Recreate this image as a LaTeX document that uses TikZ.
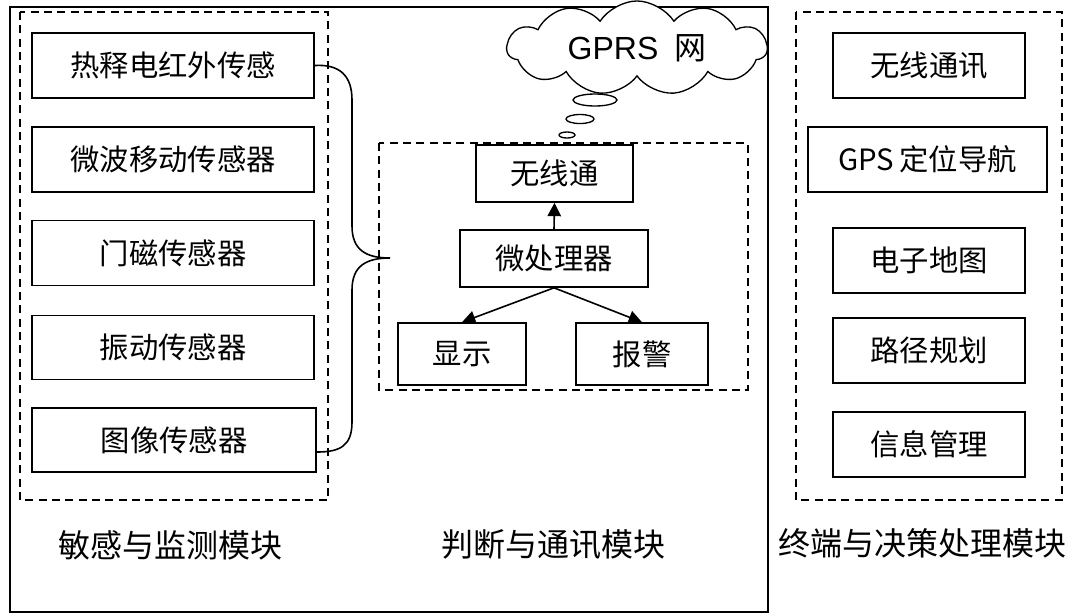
\documentclass[tikz,border=0pt]{standalone}
\usepackage{fontspec}
\setmainfont{Liberation Sans}
\newfontfamily\zh{Noto Sans CJK SC}
\usetikzlibrary{arrows.meta,shapes.symbols,calc}
\tikzset{
  frame/.style={draw,line width=1.2pt},
  dashbox/.style={draw,line width=1.1pt,dash pattern=on 6pt off 4pt},
  blk/.style={draw,line width=1.2pt,inner sep=0pt,
    font=\zh\fontsize{22}{22}\selectfont},
  caption/.style={font=\zh\fontsize{24}{24}\selectfont,inner sep=0pt},
  link/.style={line width=1.2pt,-{Triangle[length=10pt,width=10pt]}},
  bubble/.style={draw,line width=1pt}
}
\begin{document}
\begin{tikzpicture}[x=0.75pt,y=-0.75pt]
\useasboundingbox (0,0) rectangle (1070,615);
% outer frame and module borders
\draw[frame] (10,7) rectangle (768,612);
\draw[dashbox] (20,12) rectangle (328,500);
\draw[dashbox] (379,143) rectangle (748,390);
\draw[dashbox] (796,12) rectangle (1062,500);

% sensing module
\node[blk,minimum width=282*0.75pt,minimum height=65*0.75pt] (b1) at (173,65.5) {热释电红外传感};
\node[blk,minimum width=282*0.75pt,minimum height=65*0.75pt] (b2) at (173,159.5) {微波移动传感器};
\node[blk,minimum width=282*0.75pt,minimum height=65*0.75pt] (b3) at (173,253) {门磁传感器};
\node[blk,minimum width=282*0.75pt,minimum height=64*0.75pt] (b4) at (173,347.5) {振动传感器};
\node[blk,minimum width=284*0.75pt,minimum height=64*0.75pt] (b5) at (174,440) {图像传感器};

% brace gathering the sensors
\coordinate (brtip) at (390,258);
\coordinate (brend) at ($(b5.east)+(0,12)$);
\draw[line width=1.2pt] (b1.east) .. controls (340,64) and (352,76) .. (352,100)
  -- (352,226) .. controls (352,250) and (366,258) .. (brtip)
  .. controls (366,258) and (352,266) .. (352,290)
  -- (352,422) .. controls (352,446) and (340,452) .. (brend);

% decision and communication module
\node[blk,minimum width=157*0.75pt,minimum height=57*0.75pt] (wx) at (554.5,173.5) {无线通};
\node[blk,minimum width=188*0.75pt,minimum height=57*0.75pt] (mp) at (554,258.5) {微处理器};
\node[blk,minimum width=128*0.75pt,minimum height=62*0.75pt] (xs) at (462,354) {显示};
\node[blk,minimum width=132*0.75pt,minimum height=62*0.75pt] (bj) at (642,354) {报警};
\draw[link] (mp.north) -- (wx.south);
\draw[link] (mp.south) -- (xs.north);
\draw[link] (mp.south) -- (bj.north);

% GPRS cloud with thought bubbles
\node[cloud,draw,line width=1pt,fill=white,cloud puffs=11,cloud puff arc=115,
  cloud ignores aspect,minimum width=260*0.75pt,inner xsep=2pt,inner ysep=7pt]
  (gprs) at (637,48) {\fontsize{24}{24}\selectfont GPRS\hspace{12pt}{\zh 网}};
\draw[bubble] (595,100) ellipse [x radius=22,y radius=6];
\draw[bubble] (580,119) ellipse [x radius=14,y radius=4.5];
\draw[bubble] (567,135) ellipse [x radius=8,y radius=3];

% terminal module
\node[blk,minimum width=192*0.75pt,minimum height=65*0.75pt] (r1) at (929,65.5) {无线通讯};
\node[blk,minimum width=239*0.75pt,minimum height=65*0.75pt] (r2) at (927.5,159.5) {GPS\hspace{4pt}定位导航};
\node[blk,minimum width=192*0.75pt,minimum height=65*0.75pt] (r3) at (929,260.5) {电子地图};
\node[blk,minimum width=192*0.75pt,minimum height=65*0.75pt] (r4) at (929,350.5) {路径规划};
\node[blk,minimum width=192*0.75pt,minimum height=65*0.75pt] (r5) at (929,444.5) {信息管理};

% module captions
\node[caption] (l1) at (170,545) {敏感与监测模块};
\node[caption] (l2) at (553,545) {判断与通讯模块};
\node[caption] (l3) at (922,543) {终端与决策处理模块};
\end{tikzpicture}
\end{document}
